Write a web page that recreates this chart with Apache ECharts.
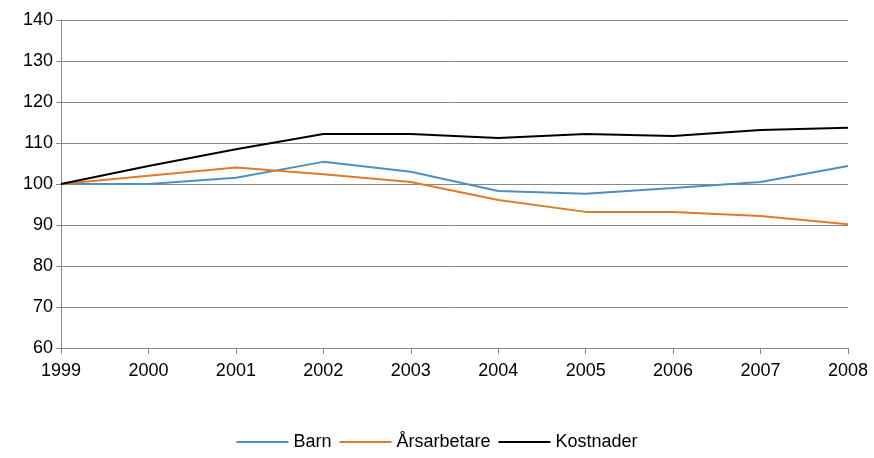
<!DOCTYPE html>
<html><head><meta charset="utf-8">
<script src="https://cdn.jsdelivr.net/npm/echarts@6/dist/echarts.min.js"></script>
<style>html,body{margin:0;padding:0;background:#fff}#c{width:874px;height:458px}</style>
</head><body><div id="c"></div>
<script>
const years = ['1999','2000','2001','2002','2003','2004','2005','2006','2007','2008'];
const barn = [100,100,101.5,105.4,103,98.3,97.6,99,100.5,104.4];
const arsarbetare = [100,102,104,102.4,100.5,96.1,93.2,93.2,92.2,90.2];
const kostnader = [100,104.4,108.5,112.2,112.2,111.2,112.2,111.7,113.2,113.7];
const font = 'Liberation Sans, Arial, sans-serif';
const mk = (name, data, color) => ({name, type:'line', data, symbol:'none', lineStyle:{color, width:2}, itemStyle:{color}});
echarts.init(document.getElementById('c')).setOption({
  animation:false,
  grid:{left:61,right:26,top:20,bottom:110},
  legend:{bottom:2,left:'center',itemWidth:52,itemHeight:2,itemGap:8,icon:'rect',
    textStyle:{fontFamily:font,fontSize:18,color:'#000'}},
  xAxis:{type:'category',data:years,boundaryGap:false,
    axisLine:{lineStyle:{color:'#888'}},axisTick:{show:true,length:6,lineStyle:{color:'#888'}},
    axisLabel:{fontFamily:font,fontSize:18,color:'#000',margin:14}},
  yAxis:{type:'value',min:60,max:140,interval:10,
    axisLine:{show:true,lineStyle:{color:'#888'}},axisTick:{show:true,length:5,lineStyle:{color:'#888'}},
    splitLine:{lineStyle:{color:'#888'}},
    axisLabel:{fontFamily:font,fontSize:18,color:'#000',margin:8}},
  series:[mk('Barn',barn,'#4f8fbf'),mk('Årsarbetare',arsarbetare,'#e07b2a'),mk('Kostnader',kostnader,'#000')]
});
</script></body></html>
